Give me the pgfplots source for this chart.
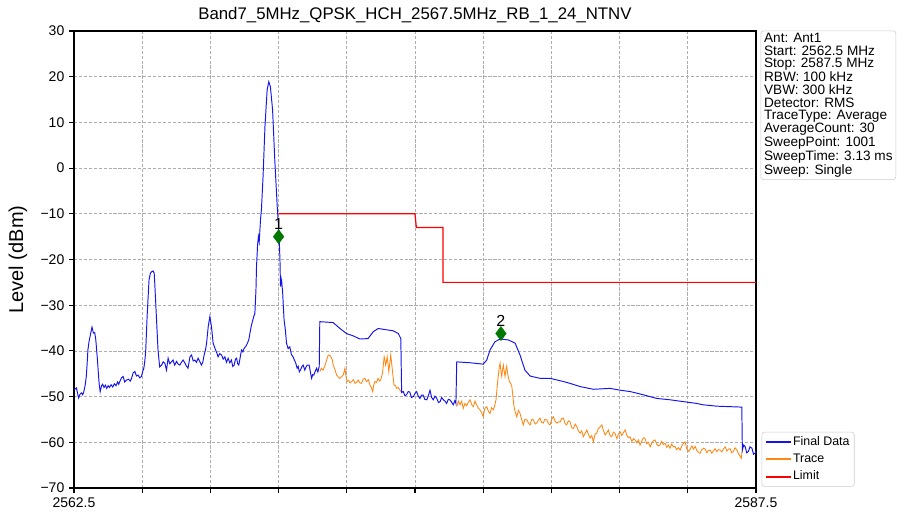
\documentclass[border=0pt]{standalone}
\usepackage{pgfplots}
\pgfplotsset{compat=1.18}
\usepackage{fontspec}
\setmainfont{Liberation Sans}
\definecolor{fdblue}{RGB}{20,20,235}
\definecolor{trorange}{RGB}{255,135,20}
\definecolor{mkgreen}{RGB}{0,120,0}
\begin{document}
\begin{tikzpicture}
\useasboundingbox (-55.5pt,-22.5pt) rectangle (617.25pt,366pt);
\begin{axis}[
  name=ax,
  at={(0pt,0pt)}, anchor=south west,
  scale only axis, width=511.5pt, height=342.75pt,
  xmin=2562.5, xmax=2587.5, ymin=-70, ymax=30,
  xtick={2562.5,2565,2567.5,2570,2572.5,2575,2577.5,2580,2582.5,2585,2587.5},
  xticklabels={2562.5,,,,,,,,,,2587.5},
  ytick={-70,-60,-50,-40,-30,-20,-10,0,10,20,30},
  yticklabels={−70,−60,−50,−40,−30,−20,−10,0,10,20,30},
  tick align=outside, major tick length=3.75pt,
  xtick pos=left, ytick pos=left,
  tick style={black, line width=0.8pt},
  axis line style={line width=0.8pt},
  grid=major,
  major grid style={dash pattern=on 2.4pt off 1.3pt, color=black!32, line width=0.6pt},
  ticklabel style={font=\fontsize{10.5}{12}\selectfont},
  title={Band7\_5MHz\_QPSK\_HCH\_2567.5MHz\_RB\_1\_24\_NTNV},
  title style={font=\fontsize{12.6}{15}\selectfont, at={(axis description cs:0.5,1)}, anchor=base, yshift=3pt},
  ylabel={Level (dBm)},
  every axis y label/.style={at={(axis description cs:-0.082,0.5)}, rotate=90, anchor=center, font=\fontsize{15}{18}\selectfont},
  legend style={at={(axis description cs:1,0)}, anchor=south west, xshift=4.2pt, yshift=1pt,
    draw=black!20, rounded corners=2pt, font=\fontsize{9.3}{10}\selectfont,
    inner xsep=2.5pt, inner ysep=2pt, row sep=2.3pt,
    nodes={inner sep=1pt, text height=6.8pt, text depth=1.9pt}},
  legend cell align=left,
  legend image code/.code={\draw[#1] (0pt,0pt) -- (18.5pt,0pt);},
]
% Trace (visible where it differs from Final Data)
\addplot[trorange, line width=0.65pt, forget plot] coordinates {
(2571.51,-44.5) (2571.57,-43.8) (2571.63,-44.2) (2571.70,-43.2) (2571.76,-42.0) (2571.82,-40.9) (2571.87,-41.0) (2571.92,-41.3) (2571.97,-42.0) (2572.00,-43.1)
(2572.06,-44.0) (2572.13,-45.3) (2572.20,-45.8) (2572.25,-46.0) (2572.31,-45.6) (2572.37,-45.3) (2572.43,-43.8) (2572.47,-45.5) (2572.51,-46.7) (2572.57,-46.5)
(2572.62,-47.0) (2572.68,-46.7) (2572.74,-46.3) (2572.80,-47.1) (2572.86,-46.9) (2572.92,-46.4) (2572.98,-47.0) (2573.04,-47.1) (2573.10,-46.2) (2573.16,-46.0)
(2573.23,-46.7) (2573.29,-46.3) (2573.35,-47.5) (2573.40,-48.0) (2573.45,-48.9) (2573.49,-47.4) (2573.53,-46.7) (2573.59,-46.9) (2573.65,-46.0) (2573.70,-46.6)
(2573.74,-46.4) (2573.78,-45.5) (2573.81,-44.9) (2573.84,-43.0) (2573.87,-41.3) (2573.90,-42.0) (2573.92,-43.1) (2573.95,-42.5) (2573.98,-41.3) (2574.01,-42.8)
(2574.04,-44.5) (2574.08,-42.5) (2574.11,-40.9) (2574.14,-42.5) (2574.17,-44.2) (2574.23,-47.5) (2574.28,-47.6) (2574.33,-48.2) (2574.39,-48.0) (2574.45,-48.6) (2574.51,-49.1)
};
\addplot[trorange, line width=0.65pt, forget plot] coordinates {
(2576.53,-52.2) (2576.59,-51.0) (2576.65,-51.8) (2576.71,-51.0) (2576.77,-52.6) (2576.83,-51.5) (2576.89,-52.0) (2576.95,-51.3) (2577.02,-50.7) (2577.08,-51.8)
(2577.14,-52.2) (2577.20,-51.0) (2577.26,-51.8) (2577.32,-52.5) (2577.38,-52.9) (2577.44,-53.5) (2577.50,-54.4) (2577.56,-52.6) (2577.63,-52.2) (2577.69,-53.2)
(2577.75,-53.7) (2577.81,-52.4) (2577.87,-52.9) (2577.92,-52.0) (2577.97,-50.7) (2578.01,-48.0) (2578.05,-45.6) (2578.09,-43.5) (2578.12,-42.7) (2578.15,-44.5)
(2578.18,-45.6) (2578.21,-44.0) (2578.24,-43.1) (2578.27,-44.5) (2578.30,-45.6) (2578.33,-44.2) (2578.36,-43.4) (2578.41,-45.5) (2578.46,-46.7) (2578.50,-47.0)
(2578.55,-47.8) (2578.59,-50.0) (2578.63,-52.2) (2578.68,-53.5) (2578.73,-54.4) (2578.79,-53.0) (2578.85,-53.7) (2578.91,-55.0) (2578.97,-56.2) (2579.03,-55.0)
(2579.10,-55.1) (2579.16,-55.8) (2579.22,-56.2) (2579.28,-55.0) (2579.34,-55.1) (2579.40,-56.0) (2579.46,-55.8) (2579.52,-55.2) (2579.58,-54.7) (2579.64,-55.6)
(2579.70,-55.8) (2579.76,-55.0) (2579.83,-55.1) (2579.89,-55.9) (2579.95,-56.2) (2580.01,-55.0) (2580.07,-54.4) (2580.14,-55.4) (2580.20,-55.8) (2580.26,-55.5)
(2580.32,-55.6) (2580.38,-54.8) (2580.44,-54.7) (2580.50,-55.9) (2580.56,-56.2) (2580.62,-55.3) (2580.68,-55.5) (2580.75,-56.8) (2580.81,-57.0) (2580.87,-56.0)
(2580.93,-56.5) (2580.99,-57.5) (2581.05,-58.0) (2581.11,-57.5) (2581.17,-58.8) (2581.24,-58.0) (2581.30,-57.3) (2581.36,-58.3) (2581.42,-59.1) (2581.48,-58.5)
(2581.54,-59.9) (2581.60,-58.2) (2581.66,-58.0) (2581.72,-57.0) (2581.79,-56.6) (2581.85,-56.2) (2581.91,-57.5) (2581.97,-58.4) (2582.03,-57.9) (2582.09,-57.3)
(2582.15,-58.5) (2582.21,-58.8) (2582.27,-57.8) (2582.33,-58.0) (2582.40,-59.2) (2582.46,-58.2) (2582.52,-57.7) (2582.58,-58.5) (2582.64,-57.9) (2582.70,-57.3)
(2582.76,-58.4) (2582.82,-59.0) (2582.88,-58.8) (2582.95,-59.8) (2583.01,-59.2) (2583.07,-59.5) (2583.13,-60.1) (2583.19,-59.5) (2583.25,-60.6) (2583.31,-59.8)
(2583.37,-59.0) (2583.43,-59.1) (2583.49,-60.3) (2583.56,-60.0) (2583.62,-61.0) (2583.68,-60.2) (2583.74,-59.6) (2583.80,-59.5) (2583.86,-60.4) (2583.92,-60.8)
(2583.98,-60.6) (2584.04,-59.8) (2584.10,-60.5) (2584.17,-60.2) (2584.23,-61.1) (2584.29,-60.6) (2584.35,-61.3) (2584.41,-60.4) (2584.47,-61.0) (2584.53,-60.9)
(2584.59,-61.6) (2584.66,-61.2) (2584.72,-61.7) (2584.78,-60.8) (2584.84,-60.2) (2584.90,-59.9) (2584.96,-61.4) (2585.03,-62.0) (2585.09,-61.5) (2585.15,-60.8)
(2585.21,-61.5) (2585.27,-60.9) (2585.33,-61.8) (2585.39,-62.2) (2585.45,-62.4) (2585.51,-61.6) (2585.58,-61.3) (2585.64,-61.5) (2585.70,-62.3) (2585.76,-61.8)
(2585.82,-61.7) (2585.88,-62.4) (2585.94,-61.9) (2586.00,-61.4) (2586.06,-62.0) (2586.13,-61.6) (2586.19,-61.7) (2586.25,-62.1) (2586.31,-61.4) (2586.37,-61.0)
(2586.43,-61.9) (2586.49,-61.5) (2586.55,-61.4) (2586.61,-62.3) (2586.67,-62.0) (2586.73,-61.2) (2586.80,-61.7) (2586.86,-62.5) (2586.92,-63.1) (2586.96,-63.5) (2587.00,-61.7)
};
% Final Data
\addplot[fdblue, line width=0.72pt, forget plot] coordinates {
(2562.50,-48.6) (2562.55,-48.3) (2562.59,-48.1) (2562.63,-49.3) (2562.67,-50.3) (2562.72,-49.5) (2562.77,-49.2) (2562.82,-49.6) (2562.86,-48.9) (2562.91,-47.5)
(2562.95,-45.6) (2562.98,-43.0) (2563.01,-39.8) (2563.05,-38.0) (2563.10,-36.5) (2563.16,-34.8) (2563.20,-35.8) (2563.22,-36.1) (2563.26,-36.0) (2563.30,-37.6)
(2563.36,-42.0) (2563.42,-47.1) (2563.46,-48.9) (2563.51,-47.6) (2563.55,-47.3) (2563.60,-48.0) (2563.65,-47.5) (2563.70,-48.2) (2563.75,-47.6) (2563.80,-48.0)
(2563.86,-47.4) (2563.92,-47.9) (2563.98,-47.2) (2564.04,-47.6) (2564.10,-46.8) (2564.14,-47.3) (2564.18,-46.7) (2564.24,-45.9) (2564.30,-45.6) (2564.36,-46.8)
(2564.42,-46.4) (2564.50,-46.2) (2564.56,-46.6) (2564.61,-46.0) (2564.67,-44.8) (2564.73,-44.5) (2564.79,-45.5) (2564.85,-45.3) (2564.91,-45.9) (2564.97,-45.6)
(2565.02,-44.5) (2565.06,-43.8) (2565.10,-42.0) (2565.13,-39.8) (2565.18,-32.5) (2565.25,-24.5) (2565.30,-23.0) (2565.34,-22.7) (2565.40,-22.5) (2565.44,-23.0)
(2565.46,-25.1) (2565.52,-32.5) (2565.58,-39.8) (2565.64,-43.5) (2565.71,-43.1) (2565.77,-42.4) (2565.83,-42.7) (2565.89,-44.2) (2565.95,-41.6) (2566.01,-42.8)
(2566.07,-42.4) (2566.13,-42.0) (2566.19,-43.1) (2566.26,-42.3) (2566.32,-42.9) (2566.38,-43.1) (2566.44,-42.5) (2566.50,-42.0) (2566.56,-42.6) (2566.62,-43.3)
(2566.68,-43.8) (2566.75,-41.3) (2566.81,-40.9) (2566.87,-42.2) (2566.93,-42.0) (2566.99,-42.5) (2567.05,-41.6) (2567.11,-42.3) (2567.17,-43.1) (2567.22,-42.5)
(2567.27,-40.9) (2567.32,-39.8) (2567.36,-38.3) (2567.42,-34.7) (2567.48,-32.5) (2567.54,-34.7) (2567.60,-38.3) (2567.69,-39.8) (2567.74,-40.5) (2567.78,-41.3)
(2567.84,-40.6) (2567.91,-40.9) (2567.97,-41.8) (2568.03,-41.3) (2568.09,-42.5) (2568.15,-41.6) (2568.21,-42.6) (2568.27,-42.0) (2568.32,-43.4) (2568.37,-43.1)
(2568.42,-41.8) (2568.46,-41.6) (2568.50,-42.8) (2568.54,-43.1) (2568.59,-41.5) (2568.64,-39.8) (2568.69,-40.2) (2568.74,-39.4) (2568.80,-39.0) (2568.86,-38.3)
(2568.91,-37.5) (2568.95,-36.1) (2569.00,-34.5) (2569.04,-33.6) (2569.09,-32.5) (2569.13,-31.8) (2569.17,-26.7) (2569.19,-21.6) (2569.23,-16.8) (2569.26,-15.0)
(2569.29,-16.1) (2569.34,-11.0) (2569.37,-9.2) (2569.43,-1.9) (2569.50,9.1) (2569.58,17.1) (2569.64,18.9) (2569.70,17.8) (2569.78,12.7) (2569.86,1.8)
(2569.95,-8.4) (2570.02,-15.0) (2570.05,-20.1) (2570.07,-25.9) (2570.11,-24.5) (2570.15,-27.4) (2570.20,-33.2) (2570.25,-35.5) (2570.29,-38.3) (2570.35,-39.5)
(2570.41,-39.1) (2570.47,-40.8) (2570.53,-41.3) (2570.58,-42.0) (2570.63,-42.7) (2570.68,-43.8) (2570.72,-43.4) (2570.76,-44.6) (2570.80,-44.2) (2570.85,-43.5)
(2570.90,-43.1) (2570.96,-44.2) (2571.00,-43.6) (2571.05,-43.1) (2571.12,-43.1) (2571.17,-44.8) (2571.21,-46.0) (2571.25,-45.2) (2571.29,-45.3) (2571.34,-44.5)
(2571.39,-43.8) (2571.44,-44.6) (2571.49,-43.4) (2571.51,-33.6) (2572.00,-33.8) (2572.25,-35.1) (2572.49,-36.2) (2572.73,-36.7) (2572.98,-37.4) (2573.28,-37.3)
(2573.47,-35.8) (2573.65,-35.1) (2574.20,-35.6) (2574.39,-36.2) (2574.48,-37.3) (2574.51,-49.1) (2574.57,-48.9) (2574.63,-49.8) (2574.69,-49.6) (2574.75,-48.9)
(2574.81,-49.0) (2574.87,-50.2) (2574.94,-50.0) (2575.00,-49.3) (2575.06,-48.9) (2575.12,-49.9) (2575.18,-50.4) (2575.24,-49.7) (2575.30,-49.7) (2575.36,-50.6)
(2575.43,-50.7) (2575.49,-49.8) (2575.55,-48.6) (2575.61,-50.2) (2575.67,-50.7) (2575.73,-49.9) (2575.79,-50.3) (2575.86,-51.3) (2575.92,-51.1) (2575.98,-50.2)
(2576.04,-50.7) (2576.10,-51.0) (2576.16,-51.5) (2576.22,-50.6) (2576.28,-50.7) (2576.34,-51.2) (2576.40,-51.8) (2576.46,-50.9) (2576.50,-51.5) (2576.53,-42.4)
(2577.03,-42.6) (2577.50,-42.9) (2577.63,-42.0) (2577.75,-39.8) (2577.93,-38.0) (2578.12,-37.4) (2578.42,-37.6) (2578.67,-38.3) (2578.85,-40.9) (2579.03,-44.2)
(2579.22,-45.5) (2579.58,-46.0) (2579.95,-46.0) (2580.44,-46.7) (2580.68,-47.1) (2581.05,-47.8) (2581.54,-48.4) (2582.15,-48.2) (2582.52,-48.6) (2582.89,-48.9)
(2583.37,-49.6) (2583.86,-50.4) (2584.35,-50.7) (2584.84,-51.1) (2585.33,-51.5) (2585.57,-51.8) (2586.07,-52.1) (2586.55,-52.2) (2586.98,-52.3) (2587.00,-61.7)
(2587.05,-60.6) (2587.10,-60.9) (2587.16,-62.3) (2587.22,-62.0) (2587.28,-61.0) (2587.35,-61.3) (2587.41,-62.6) (2587.47,-62.4) (2587.50,-61.8)
};
% Limit
\addplot[red, line width=0.9pt, forget plot] coordinates {
(2570,-10) (2575,-10) (2575.05,-13) (2576.03,-13) (2576.03,-25) (2587.5,-25)
};
% Markers
\addplot[only marks, mark=diamond*, mark size=5.25pt, color=mkgreen, forget plot,
  nodes near coords, point meta=explicit symbolic,
  every node near coord/.style={black, font=\fontsize{12}{13}\selectfont, anchor=base, inner sep=0pt, yshift=5.5pt}]
  table[meta=label] {
x y label
2570.00 -15.0 1
2578.15 -36.2 2
};
\addlegendimage{fdblue, line width=1.4pt}
\addlegendentry{Final Data}
\addlegendimage{trorange, line width=1.4pt}
\addlegendentry{Trace}
\addlegendimage{red, line width=1.4pt}
\addlegendentry{Limit}
\end{axis}
\node[anchor=north west, draw=black!20, rounded corners=2pt, fill=white,
  inner xsep=2.4pt, inner ysep=2pt, align=left,
  font=\fontsize{10.2}{9.4}\selectfont] at ([xshift=3.5pt,yshift=0.3pt]ax.north east)
  {Ant: Ant1\\Start: 2562.5 MHz\\Stop: 2587.5 MHz\\RBW: 100 kHz\\VBW: 300 kHz\\Detector: RMS\\TraceType: Average\\AverageCount: 30\\SweepPoint: 1001\\SweepTime: 3.13 ms\\Sweep: Single};
\end{tikzpicture}
\end{document}
